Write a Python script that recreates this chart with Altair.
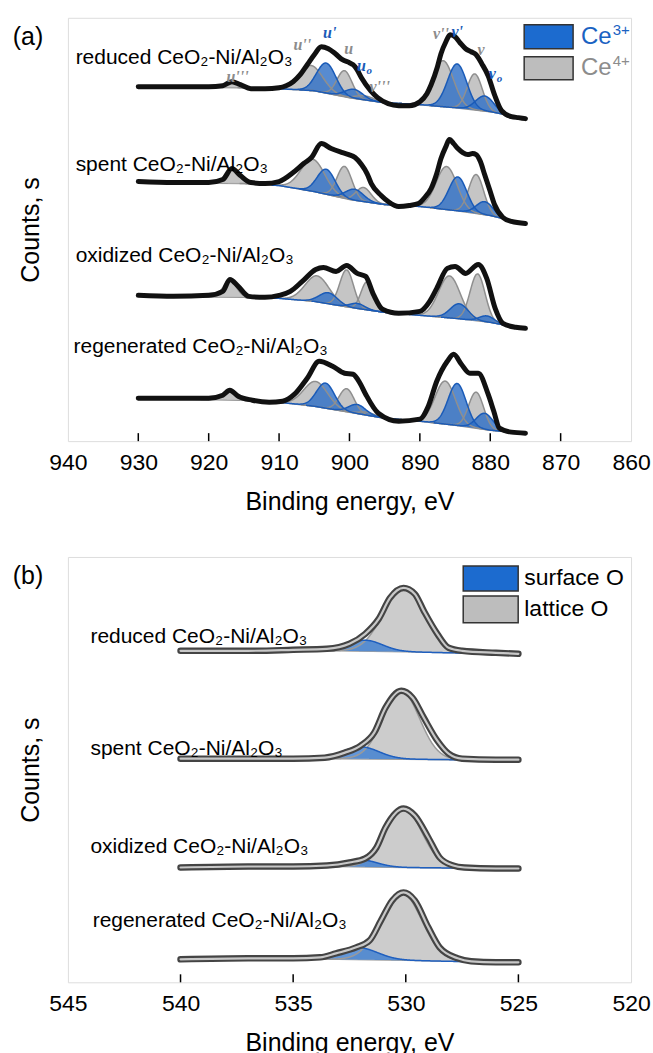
import numpy as np
import pandas as pd
import altair as alt

FONT = "Liberation Sans, Arial, DejaVu Sans, sans-serif"
SERIF = "Liberation Serif, Times New Roman, DejaVu Serif, serif"

# ---------------- Panel (a): Ce 3d ----------------
A_TICKS = [940, 930, 920, 910, 900, 890, 880, 870, 860]
A_INNER_TICKS = [930, 920, 910, 900, 890, 880, 870]
SAMPLES = ["reduced", "spent", "oxidized", "regenerated"]
SAMPLE_TEXT = ["reduced CeO₂-Ni/Al₂O₃", "spent CeO₂-Ni/Al₂O₃",
               "oxidized CeO₂-Ni/Al₂O₃", "regenerated CeO₂-Ni/Al₂O₃"]
A_TEXT_EV = [938.9, 938.9, 938.9, 939.2]
A_TEXT_Y = [384, 277, 185, 94]

# measured spectra (black symbols)
A_ENV_EV = {
    "reduced": [930, 925, 920, 918, 916.7, 915.5, 914, 912, 910, 909, 908, 907, 906, 905, 904, 903, 902, 901,
                900, 899.5, 899, 898.3, 897, 896, 894.5, 893, 891.5, 890, 889, 888.4, 887.5, 887, 886.3, 885.7,
                885, 884.3, 883.5, 882.7, 882, 881.2, 880.3, 879.4, 878.4, 877, 876, 875],
    "spent": [930, 925, 920, 918, 916.7, 915.5, 914, 912, 910, 908, 906.5, 905.4, 904, 902.6, 901, 900.1, 899.2,
              898.3, 897.5, 896.9, 895.5, 894.5, 893, 891.5, 890.2, 889.3, 888.4, 887.6, 887, 886.3, 885.8, 885.2,
              884.6, 883.9, 883.2, 882.5, 882, 881.4, 880.8, 880, 879.4, 878.2, 877, 875],
    "oxidized": [930, 925, 920, 918, 917, 915.8, 914.3, 912, 910, 908.4, 906.7, 904.8, 903.7, 901.9, 900.4, 898.9,
                 897.7, 896.6, 895.3, 893, 890, 888.6, 887.6, 886.1, 885, 883.5, 881.7, 880.5, 879.3, 878.2, 876.4,
                 875],
    "regenerated": [930, 925, 920, 918, 917, 915.8, 913.8, 911.4, 909.5, 907.8, 906, 904.3, 902.4, 900.7, 899.5,
                    898.5, 897.7, 895.9, 893, 890, 888.8, 887.6, 886.1, 885.2, 884.1, 882.9, 881.7, 880.3, 879.5,
                    878.7, 877, 875],
}
A_ENV_Y = {
    "reduced": [355, 355, 355, 356, 360, 357, 353, 353, 354, 356, 360, 367, 377, 387, 395, 393, 388, 382, 379, 377,
                373, 364, 351, 344, 338, 336, 336, 340, 348, 357, 375, 388, 400, 407, 405, 399, 393, 390, 387, 378,
                366, 347, 331, 325, 324, 323],
    "spent": [260, 259, 259, 262, 273, 266, 259, 258, 260, 269, 278, 284, 298, 293, 289, 287, 284, 277, 268, 258,
              246, 240, 235, 236, 238, 244, 253, 268, 283, 295, 302, 298, 293, 289, 287, 288, 287, 280, 267, 250,
              237, 224, 220, 218],
    "oxidized": [146, 145, 146, 150, 162, 155, 145, 144, 146, 150, 160, 172, 174, 170, 176, 168, 165, 147, 132, 128,
                 130, 140, 153, 173, 175, 168, 177, 163, 133, 118, 114, 113],
    "regenerated": [43, 43, 43, 46, 51, 45, 41, 39, 40, 47, 63, 80, 75, 68, 67, 58, 47, 28, 20, 22, 35, 60, 80, 87,
                    77, 68, 68, 47, 30, 13, 9, 8],
}
# background (Shirley) lines
A_BG_EV = [930, 915, 910, 905, 900, 895, 890, 885, 880, 877, 875]
A_BG_Y = {
    "reduced": [355, 354, 353, 351, 344, 339, 337, 334, 330, 326, 323],
    "spent": [259, 258, 256, 250, 242, 237, 235, 231, 226, 221, 218],
    "oxidized": [145, 144, 143, 140, 134, 129, 126, 123, 119, 115, 113],
    "regenerated": [43, 41, 39, 35, 29, 23, 20, 16, 11, 9, 8],
}
# fitted components: u''', u'', u', u, u0, v''', v'', v', v, v0
A_PEAK_KIND = ["Ce4+", "Ce4+", "Ce3+", "Ce4+", "Ce3+", "Ce4+", "Ce4+", "Ce3+", "Ce4+", "Ce3+"]
A_PEAK_CENTER = {
    "reduced": [916.7, 905.5, 903.3, 900.7, 899.4, 897.8, 886.7, 884.7, 882.2, 880.8],
    "spent": [916.7, 905.2, 903.3, 900.7, 899.3, 898.0, 886.2, 884.6, 882.0, 880.8],
    "oxidized": [917.0, 904.6, 903.0, 900.4, 898.9, 897.5, 885.8, 884.4, 881.8, 880.5],
    "regenerated": [917.0, 904.8, 903.4, 900.4, 898.9, 897.5, 886.4, 884.7, 882.0, 880.8],
}
A_PEAK_HEIGHT = {
    "reduced": [6, 25, 30, 26, 9, 4, 46, 44, 36, 15],
    "spent": [14, 32, 25, 32, 11, 14, 43, 34, 39, 13],
    "oxidized": [17, 26, 11, 37, 5, 28, 42, 15, 47, 6],
    "regenerated": [8, 25, 25, 23, 9, 3, 43, 42, 36, 16],
}
A_PEAK_FWHM = {
    "reduced": [2.5, 4.0, 3.2, 2.5, 3.0, 3.0, 3.5, 3.2, 2.5, 3.0],
    "spent": [2.3, 4.0, 3.0, 2.5, 3.0, 2.5, 3.5, 3.0, 2.5, 2.8],
    "oxidized": [2.2, 4.0, 3.0, 2.3, 2.5, 2.0, 3.6, 3.0, 2.5, 2.5],
    "regenerated": [2.3, 4.0, 3.0, 2.5, 2.8, 2.5, 3.4, 3.0, 2.5, 2.8],
}
# peak annotations on the top spectrum
A_ANN_GRAY_TEXT = ["u'''", "u''", "u", "v'''", "v''", "v"]
A_ANN_GRAY_EV = [915.9, 906.7, 900.1, 895.7, 887.0, 881.3]
A_ANN_GRAY_Y = [365, 397, 393, 355, 408, 392]
A_ANN_BLUE_TEXT = ["u'", "u", "v'", "v"]
A_ANN_BLUE_EV = [902.8, 898.3, 884.7, 879.7]
A_ANN_BLUE_Y = [409, 376, 410, 368]
A_ANN_SUB_EV = [897.2, 878.7]
A_ANN_SUB_Y = [371, 363]

A_LEG_KIND = ["Ce3+", "Ce4+"]
A_LEG_MAIN = ["Ce", "Ce"]
A_LEG_SUP = ["3+", "4+"]
A_LEG_EV = [875.18, 868.23]
A_LEG_TOP = [417, 385]
A_LEG_BOT = [393, 362]
A_LEG_TEXT_EV = [867.1, 862.6]
A_LEG_TEXT_Y = [405, 373.5]
A_LEG_SUP_Y = [412, 380.5]

# ---------------- Panel (b): O 1s ----------------
B_TICKS = [545, 540, 535, 530, 525, 520]
B_INNER_TICKS = [540, 535, 530, 525]
B_TEXT_EV = [544.0, 544.0, 544.0, 543.9]
B_TEXT_Y = [346, 234, 136, 61]
B_ENV_EV = {
    "reduced": [540, 537, 535, 533.5, 532.5, 531.8, 531.2, 530.7, 530.1, 529.6, 529.2, 528.6, 528.1, 527.5, 526, 525],
    "spent": [540, 537, 535, 533.6, 532.7, 532, 531.4, 530.9, 530.2, 529.7, 529.2, 528.6, 528.1, 527.5, 526, 525],
    "oxidized": [540, 537, 535, 533.5, 532.5, 531.8, 531.3, 530.9, 530.1, 529.6, 529, 528.5, 527.9, 527.4, 526, 525],
    "regenerated": [540, 537, 535, 533.8, 533.1, 532.2, 531.6, 531.1, 530.6, 530.1, 529.6, 529, 528.5, 527.7, 527.1,
                    526, 525],
}
B_ENV_Y = {
    "reduced": [332, 332, 333, 334, 339, 349, 364, 385, 395, 389, 372, 349, 335, 332, 330, 329],
    "spent": [224, 224, 224, 225, 230, 237, 250, 275, 292, 285, 265, 242, 229, 224, 223, 223],
    "oxidized": [115, 116, 116, 117, 120, 124, 135, 155, 174, 167, 145, 125, 117, 115, 114, 114],
    "regenerated": [23, 24, 24, 25, 29, 35, 42, 62, 82, 90, 82, 55, 35, 24, 21, 20, 20],
}
B_BG_EV = [540, 533, 530, 528, 525]
B_BG_Y = {
    "reduced": [332, 332, 331, 330, 329],
    "spent": [224, 224, 223.5, 223, 223],
    "oxidized": [115, 116, 115, 114.5, 114],
    "regenerated": [23, 23, 22, 21, 20],
}
B_PEAK_KIND = ["lattice O", "surface O"]
B_PEAK_CENTER = {"reduced": [530.1, 531.8], "spent": [530.2, 532.0],
                 "oxidized": [530.1, 532.0], "regenerated": [530.2, 532.1]}
B_PEAK_HEIGHT = {"reduced": [64, 11], "spent": [68, 12], "oxidized": [59, 7], "regenerated": [68, 12]}
B_PEAK_FWHM = {"reduced": [2.1, 1.8], "spent": [1.9, 1.9], "oxidized": [1.9, 1.7], "regenerated": [2.1, 2.0]}
B_LEG_TEXT = ["surface O", "lattice O"]
B_LEG_EV = [527.45, 525.01]
B_LEG_TOP = [417, 387]
B_LEG_BOT = [392, 360]
B_LEG_TEXT_EV = 524.74
B_LEG_TEXT_Y = [404.5, 373.5]

BLUE_FILL, BLUE_LINE = "#2d6ec6", "#1a5bb8"
GRAY_FILL, GRAY_LINE = "#bfbfbf", "#8f8f8f"
XT = "Binding energy, eV"
YT = "Counts, s"


def comp_rows(centers, heights, fwhms, kinds, bg_ev, bg_y, lo, hi, step):
    rows = []
    xp = np.array(bg_ev[::-1], float)
    for s in SAMPLES:
        fp = np.array(bg_y[s][::-1], float)
        for i, (c, h, w) in enumerate(zip(centers[s], heights[s], fwhms[s])):
            xs = np.arange(max(lo, c - 2.6 * w), min(hi, c + 2.6 * w) + 1e-9, step)
            base = np.interp(xs, xp, fp)
            top = base + h * np.exp(-4 * np.log(2) * ((xs - c) / w) ** 2)
            for x, b, t in zip(xs, base, top):
                rows.append({"sample": s, "comp": f"{s}_{i}", "kind": kinds[i],
                             "ev": round(float(x), 3), "base": float(b), "top": float(t)})
    return pd.DataFrame(rows)


def line_rows(ev, y):
    return pd.DataFrame([{"sample": s, "ev": e, "v": v} for s in SAMPLES for e, v in zip(ev[s], y[s])])


def bg_rows(ev, y):
    return pd.DataFrame([{"sample": s, "ev": e, "v": v} for s in SAMPLES for e, v in zip(ev, y[s])])


YAX = alt.Axis(labels=False, ticks=False, domain=False, grid=False, titleFontSize=25,
               titleFontWeight="normal", titlePadding=24, titleColor="black", titleFont=FONT)


def build_panel(tag, H, dom, tick_vals, inner_ticks, env, bg, comps, blue_kind, gray_kind,
                gfill, gline, bfill, bline, data_layers, extra_layers):
    sx = alt.Scale(domain=dom, reverse=True, nice=False, zero=False)
    sy = alt.Scale(domain=[0, H], nice=False, zero=False)
    xax = alt.Axis(values=tick_vals, format="d", labelFontSize=23, labelColor="black", labelFont=FONT,
                   ticks=False, domain=False, grid=False, labelPadding=10, labelFlush=False,
                   labelOverlap=False, titleFontSize=25, titleFontWeight="normal", titleColor="black",
                   titleFont=FONT, titlePadding=15)

    def X(f):
        return alt.X(f, type="quantitative", scale=sx, axis=xax, title=XT)

    def Y(f):
        return alt.Y(f, type="quantitative", scale=sy, axis=YAX, title=YT)

    base_bg = alt.Chart(bg).mark_line(color=gline, strokeWidth=1.5).encode(
        x=X("ev"), y=Y("v"), detail="sample:N")
    g_area = alt.Chart(comps).transform_filter(alt.datum.kind == gray_kind).mark_area(
        color=gfill, opacity=0.9).encode(x=X("ev"), y=Y("top"), y2=alt.Y2("base", title=YT), detail="comp:N")
    b_area = alt.Chart(comps).transform_filter(alt.datum.kind == blue_kind).mark_area(
        color=bfill, opacity=0.8).encode(x=X("ev"), y=Y("top"), y2=alt.Y2("base", title=YT), detail="comp:N")
    g_line = alt.Chart(comps).transform_filter(alt.datum.kind == gray_kind).mark_line(
        color=gline, strokeWidth=1.5).encode(x=X("ev"), y=Y("top"), detail="comp:N")
    b_line = alt.Chart(comps).transform_filter(alt.datum.kind == blue_kind).mark_line(
        color=bline, strokeWidth=1.5).encode(x=X("ev"), y=Y("top"), detail="comp:N")
    layers = [base_bg, g_area, b_area, g_line, b_line]
    for props in data_layers:
        layers.append(alt.Chart(env).mark_line(interpolate="monotone", strokeCap="round",
                                               strokeJoin="round", **props).encode(
            x=X("ev"), y=Y("v"), detail="sample:N"))
    ticks = alt.Chart(pd.DataFrame({"t": inner_ticks})).mark_rule(color="black", strokeWidth=1.5).encode(
        x=X("t"), y=alt.value(H), y2=alt.value(H - 8))
    tagc = alt.Chart(pd.DataFrame({"t": [tag]})).mark_text(
        fontSize=25, font=FONT, align="center", baseline="middle", color="black").encode(
        x=alt.value(-40), y=alt.value(19), text="t:N")
    layers += [ticks, tagc]
    layers += [f(X, Y) for f in extra_layers]
    return alt.layer(*layers).properties(width=564, height=H)


# ---- panel (a) extra layers ----
def a_samples(X, Y):
    df = pd.DataFrame({"ev": A_TEXT_EV, "v": A_TEXT_Y, "t": SAMPLE_TEXT})
    return alt.Chart(df).mark_text(fontSize=21, font=FONT, align="left", baseline="middle",
                                   color="black").encode(x=X("ev"), y=Y("v"), text="t:N")


def a_ann_gray(X, Y):
    df = pd.DataFrame({"ev": A_ANN_GRAY_EV, "v": A_ANN_GRAY_Y, "t": A_ANN_GRAY_TEXT})
    return alt.Chart(df).mark_text(fontSize=16, font=SERIF, fontStyle="italic", fontWeight="bold",
                                   align="center", baseline="middle", color="#8c8c8c").encode(
        x=X("ev"), y=Y("v"), text="t:N")


def a_ann_blue(X, Y):
    df = pd.DataFrame({"ev": A_ANN_BLUE_EV, "v": A_ANN_BLUE_Y, "t": A_ANN_BLUE_TEXT})
    return alt.Chart(df).mark_text(fontSize=16, font=SERIF, fontStyle="italic", fontWeight="bold",
                                   align="center", baseline="middle", color="#1a5bb8").encode(
        x=X("ev"), y=Y("v"), text="t:N")


def a_ann_sub(X, Y):
    df = pd.DataFrame({"ev": A_ANN_SUB_EV, "v": A_ANN_SUB_Y, "t": ["o", "o"]})
    return alt.Chart(df).mark_text(fontSize=11, font=SERIF, fontStyle="italic", fontWeight="bold",
                                   align="center", baseline="middle", color="#1a5bb8").encode(
        x=X("ev"), y=Y("v"), text="t:N")


def a_leg_box(X, Y):
    df = pd.DataFrame({"x1": [A_LEG_EV[0]] * 2, "x2": [A_LEG_EV[1]] * 2, "y1": A_LEG_TOP,
                       "y2": A_LEG_BOT, "k": A_LEG_KIND})
    return alt.Chart(df).mark_rect(stroke="#333333", strokeWidth=1.5).encode(
        x=X("x1"), x2=alt.X2("x2", title=XT), y=Y("y1"), y2=alt.Y2("y2", title=YT),
        fill=alt.Fill("k:N", scale=alt.Scale(domain=A_LEG_KIND, range=["#1c6bcf", "#bdbdbd"]), legend=None))


def a_leg_text(X, Y):
    df = pd.DataFrame({"ev": [A_LEG_TEXT_EV[0]] * 2, "v": A_LEG_TEXT_Y, "t": A_LEG_MAIN,
                       "c": ["#1a62c2", "#8c8c8c"]})
    return alt.Chart(df).mark_text(fontSize=24, font=FONT, align="left", baseline="middle").encode(
        x=X("ev"), y=Y("v"), text="t:N", color=alt.Color("c:N", scale=None))


def a_leg_sup(X, Y):
    df = pd.DataFrame({"ev": [A_LEG_TEXT_EV[1]] * 2, "v": A_LEG_SUP_Y, "t": A_LEG_SUP,
                       "c": ["#1a62c2", "#8c8c8c"]})
    return alt.Chart(df).mark_text(fontSize=15, font=FONT, align="left", baseline="middle").encode(
        x=X("ev"), y=Y("v"), text="t:N", color=alt.Color("c:N", scale=None))


# ---- panel (b) extra layers ----
def b_samples(X, Y):
    df = pd.DataFrame({"ev": B_TEXT_EV, "v": B_TEXT_Y, "t": SAMPLE_TEXT})
    return alt.Chart(df).mark_text(fontSize=21, font=FONT, align="left", baseline="middle",
                                   color="black").encode(x=X("ev"), y=Y("v"), text="t:N")


def b_leg_box(X, Y):
    df = pd.DataFrame({"x1": [B_LEG_EV[0]] * 2, "x2": [B_LEG_EV[1]] * 2, "y1": B_LEG_TOP,
                       "y2": B_LEG_BOT, "k": B_LEG_TEXT})
    return alt.Chart(df).mark_rect(stroke="#333333", strokeWidth=1.5).encode(
        x=X("x1"), x2=alt.X2("x2", title=XT), y=Y("y1"), y2=alt.Y2("y2", title=YT),
        fill=alt.Fill("k:N", scale=alt.Scale(domain=B_LEG_TEXT, range=["#1c6bcf", "#bdbdbd"]), legend=None))


def b_leg_text(X, Y):
    df = pd.DataFrame({"ev": [B_LEG_TEXT_EV] * 2, "v": B_LEG_TEXT_Y, "t": B_LEG_TEXT})
    return alt.Chart(df).mark_text(fontSize=23, font=FONT, align="left", baseline="middle",
                                   color="black").encode(x=X("ev"), y=Y("v"), text="t:N")


a_comps = comp_rows(A_PEAK_CENTER, A_PEAK_HEIGHT, A_PEAK_FWHM, A_PEAK_KIND, A_BG_EV, A_BG_Y, 875, 930, 0.05)
b_comps = comp_rows(B_PEAK_CENTER, B_PEAK_HEIGHT, B_PEAK_FWHM, B_PEAK_KIND, B_BG_EV, B_BG_Y, 525, 540, 0.02)

panel_a = build_panel(
    "(a)", 424, [860, 940], A_TICKS, A_INNER_TICKS,
    line_rows(A_ENV_EV, A_ENV_Y), bg_rows(A_BG_EV, A_BG_Y), a_comps, "Ce3+", "Ce4+",
    GRAY_FILL, GRAY_LINE, BLUE_FILL, BLUE_LINE,
    [dict(color="#111111", strokeWidth=5)],
    [a_samples, a_ann_gray, a_ann_blue, a_ann_sub, a_leg_box, a_leg_text, a_leg_sup])

panel_b = build_panel(
    "(b)", 426, [520, 545], B_TICKS, B_INNER_TICKS,
    line_rows(B_ENV_EV, B_ENV_Y), bg_rows(B_BG_EV, B_BG_Y), b_comps, "surface O", "lattice O",
    "#c6c6c6", "#9a9a9a", "#3b7dd1", "#1f5fbf",
    [dict(color="#444444", strokeWidth=6.5), dict(color="#c8c8c8", strokeWidth=2.2)],
    [b_samples, b_leg_box, b_leg_text])

chart = alt.vconcat(panel_a, panel_b, spacing=41).properties(
    padding={"left": 12, "top": 16, "right": 2, "bottom": 0}
).configure_view(stroke="black", strokeWidth=2).configure(font=FONT)

chart.save("out.html", embed_options={"renderer": "svg", "actions": False})
